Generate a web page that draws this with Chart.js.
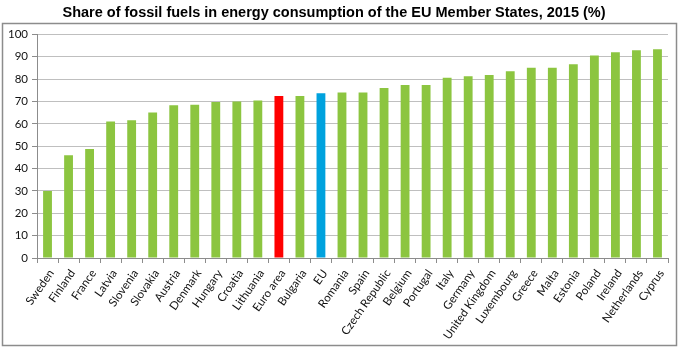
<!DOCTYPE html>
<html>
<head>
<meta charset="utf-8">
<script src="https://cdn.jsdelivr.net/npm/chart.js@4.4.1/dist/chart.umd.min.js"></script>
<style>
  html, body { margin: 0; padding: 0; background: #fff; }
  #wrap { width: 680px; height: 350px; position: relative; }
</style>
</head>
<body>
<div id="wrap"><canvas id="c" width="680" height="350"></canvas></div>
<script>
const title = 'Share of fossil fuels in energy consumption of the EU Member States, 2015 (%)';
const categories = ['Sweden','Finland','France','Latvia','Slovenia','Slovakia','Austria','Denmark','Hungary','Croatia','Lithuania','Euro area','Bulgaria','EU','Romania','Spain','Czech Republic','Belgium','Portugal','Italy','Germany','United Kingdom','Luxembourg','Greece','Malta','Estonia','Poland','Ireland','Netherlands','Cyprus'];
const values = [30.0,46.0,48.8,61.0,61.6,65.1,68.3,68.5,69.8,70.0,70.4,72.5,72.5,73.7,74.0,74.0,76.0,77.4,77.4,80.6,81.3,81.8,83.5,85.1,85.1,86.6,90.6,92.0,92.9,93.4];
const yTicks = [0,10,20,30,40,50,60,70,80,90,100];

const GREEN = '#8cc540', RED = '#ff0000', BLUE = '#00a2de';
const colors = categories.map(c => c === 'Euro area' ? RED : (c === 'EU' ? BLUE : GREEN));

const frame = {
  id: 'frame',
  beforeDraw(chart) {
    const ctx = chart.ctx;
    ctx.save();
    ctx.fillStyle = '#fff';
    ctx.fillRect(0, 0, chart.width, chart.height);
    ctx.strokeStyle = '#8c8c8c';
    ctx.lineWidth = 1.5;
    ctx.strokeRect(2.5, 23.5, 674, 322);
    ctx.restore();
  }
};

new Chart(document.getElementById('c'), {
  type: 'bar',
  data: {
    labels: categories,
    datasets: [{
      data: values,
      backgroundColor: colors,
      borderWidth: 0,
      barPercentage: 0.42,
      categoryPercentage: 1.0
    }]
  },
  options: {
    responsive: false,
    animation: false,
    layout: { padding: { left: 0, right: 12, top: 1, bottom: 0 } },
    plugins: {
      legend: { display: false },
      tooltip: { enabled: false },
      title: {
        display: true,
        text: title,
        color: '#000',
        font: { family: 'Liberation Sans, Arial, sans-serif', size: 14.5, weight: 'bold' },
        padding: { top: 3, bottom: 13 }
      }
    },
    scales: {
      x: {
        grid: { drawOnChartArea: false, drawTicks: true, tickLength: 5, color: '#8c8c8c' },
        border: { color: '#8c8c8c' },
        ticks: {
          autoSkip: false,
          minRotation: 55, maxRotation: 55,
          padding: 4,
          labelOffset: 4,
          color: '#111',
          font: { family: 'Lato, sans-serif', size: 11.5 }
        },
        afterFit(scale) { scale.height = 92; }
      },
      y: {
        min: 0, max: 100,
        afterBuildTicks(scale) { scale.ticks = yTicks.map(v => ({ value: v })); },
        grid: { color: '#bfbfbf', tickLength: 5, tickColor: '#8c8c8c' },
        border: { color: '#8c8c8c' },
        ticks: {
          padding: 4,
          color: '#111',
          font: { family: 'Lato, sans-serif', size: 11.5 }
        },
        afterFit(scale) { scale.width = 37; }
      }
    }
  },
  plugins: [frame]
});
</script>
</body>
</html>
